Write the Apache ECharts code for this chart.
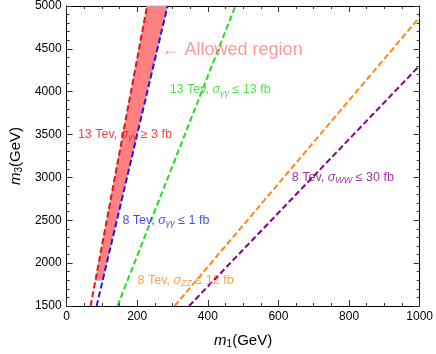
<!DOCTYPE html>
<html>
<head>
<meta charset="utf-8">
<script src="https://cdn.jsdelivr.net/npm/echarts@6/dist/echarts.min.js"></script>
<style>
  html, body { margin: 0; padding: 0; background: #fff; }
  #main { width: 436px; height: 354px; }
</style>
</head>
<body>
<div id="main"></div>
<script>
// lines: [m1, m3]
const redLine = [[68, 1500], [228, 5000]];
const blueLine = [[85, 1500], [286, 5000]];
const greenLine = [[144, 1500], [478, 5000]];
const orangeLine = [[306, 1500], [1000, 4870]];
const purpleLine = [[347, 1500], [1000, 4305]];
// allowed band between red and blue lines
const allowedRegion = [[82, 1800], [228, 5000], [286, 5000], [102, 1800]];

// annotation anchors (left edge of text)
const labelText = [
  "{a|← Allowed region}",
  "{g|13 Tev, }{gi|σ}{gs|γγ}{g| ≤ 13 fb}",
  "{r|13 Tev, }{ri|σ}{rs|γγ}{r| ≥ 3 fb}",
  "{b|8 Tev, }{bi|σ}{bs|γγ}{b| ≤ 1 fb}",
  "{o|8 Tev, }{oi|σ}{os|ZZ}{o| ≤ 12 fb}",
  "{p|8 Tev, }{pi|σ}{ps|WW}{p| ≤ 30 fb}"
];
const labelPos = [[269, 4489], [292, 4020], [32, 3505], [158, 2495], [201, 1800], [638, 3001]];

const colors = {
  r: "#ee1111", b: "#1a1aee", g: "#22dd22", o: "#ff8811", p: "#880088"
};

function richFor() {
  const rich = {
    a: { color: "#ff7f7f", fontSize: 18, fontFamily: "Liberation Sans" }
  };
  Object.keys(colors).forEach(function (k) {
    rich[k] = { color: colors[k], fontSize: 12.5, fontFamily: "Liberation Sans" };
    rich[k + "i"] = { color: colors[k], fontSize: 12.5, fontStyle: "italic", fontFamily: "Liberation Sans" };
    rich[k + "s"] = { color: colors[k], fontSize: 9, fontStyle: "italic", fontFamily: "Liberation Sans", padding: [6, 0, 0, 0] };
  });
  return rich;
}

function dashLine(name, data, color) {
  return {
    name: name,
    type: "line",
    data: data,
    symbol: "none",
    z: 5,
    lineStyle: { color: color, width: 2, type: [6, 3] }
  };
}

const chart = echarts.init(document.getElementById("main"));

function ticksX(pos, labels) {
  return {
    type: "value", min: 0, max: 1000, interval: 200, position: pos,
    axisTick: { show: true, inside: true, length: 6, lineStyle: { color: "#333", width: 1 } },
    minorTick: { show: true, splitNumber: 4, length: 3, lineStyle: { color: "#333", width: 1 } },
    axisLine: { show: true, onZero: false, lineStyle: { color: "#000", width: 1 } },
    splitLine: { show: false },
    axisLabel: labels
  };
}
function ticksY(pos, labels) {
  return {
    type: "value", min: 1500, max: 5000, interval: 500, position: pos,
    axisTick: { show: true, inside: true, length: 6, lineStyle: { color: "#333", width: 1 } },
    minorTick: { show: true, splitNumber: 5, length: 3, lineStyle: { color: "#333", width: 1 } },
    axisLine: { show: true, onZero: false, lineStyle: { color: "#000", width: 1 } },
    splitLine: { show: false },
    axisLabel: labels
  };
}
const plain = function (v) { return String(v); };
const tickLabels = { show: true, color: "#000", fontSize: 12, fontFamily: "Liberation Sans", margin: 5, formatter: plain };
const nameRich = {
  i: { fontSize: 15, fontStyle: "italic", fontFamily: "Liberation Sans", color: "#000" },
  s: { fontSize: 10, fontFamily: "Liberation Sans", color: "#000", padding: [7, 0, 0, 0] },
  n: { fontSize: 15, fontFamily: "Liberation Sans", color: "#000" }
};

const xMain = ticksX("bottom", tickLabels);
xMain.name = "{i|m}{s|1}{n|(GeV)}";
xMain.nameLocation = "middle";
xMain.nameGap = 26;
xMain.nameTextStyle = { rich: nameRich };

const yMain = ticksY("left", tickLabels);
yMain.name = "{i|m}{s|3}{n|(GeV)}";
yMain.nameLocation = "middle";
yMain.nameGap = 38;
yMain.nameRotate = 90;
yMain.nameTextStyle = { rich: nameRich };

chart.setOption({
  animation: false,
  grid: { left: 58, right: 15, top: 6, bottom: 42 },
  xAxis: [xMain, ticksX("top", { show: false })],
  yAxis: [yMain, ticksY("right", { show: false })],
  series: [
    {
      type: "custom",
      name: "allowed",
      z: 2,
      data: [0],
      renderItem: function (params, api) {
        const pts = allowedRegion.map(function (p) { return api.coord(p); });
        return {
          type: "polygon",
          shape: { points: pts },
          style: { fill: "#ff8080", stroke: "#a8b8d0", lineWidth: 1 }
        };
      }
    },
    dashLine("red", redLine, colors.r),
    dashLine("blue", blueLine, colors.b),
    dashLine("green", greenLine, colors.g),
    dashLine("orange", orangeLine, colors.o),
    dashLine("purple", purpleLine, colors.p),
    {
      type: "scatter",
      name: "labels",
      symbolSize: 0,
      z: 10,
      data: labelPos.map(function (p, i) {
        return { value: p, label: { formatter: labelText[i] } };
      }),
      label: {
        show: true,
        position: "right",
        distance: 0,
        rich: richFor()
      }
    }
  ]
});
</script>
</body>
</html>
